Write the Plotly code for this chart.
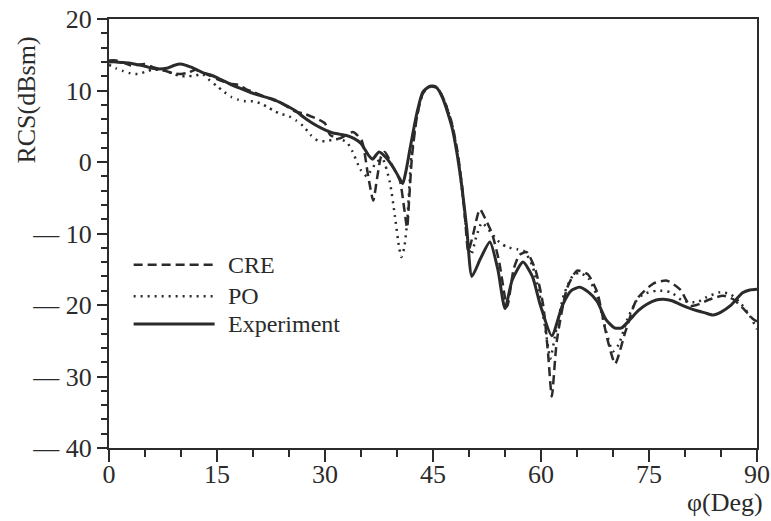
import plotly.graph_objects as go

# ---------------- data ----------------
exp_phi = [0, 1, 2, 3, 4, 5, 6, 7, 8, 9, 10, 11, 12, 13, 14, 15, 16, 17, 18, 19,
           20, 21, 22, 23, 24, 25, 26, 27, 28, 29, 30, 31, 32, 33, 34, 35, 36,
           36.6, 37.5, 38.5, 39.5, 40.3, 40.8, 41.3, 41.8, 42.8, 43.6, 44.6, 45.5,
           46.4, 47.6, 48.3, 49.0, 49.7, 50.4, 51.6, 52.9, 54.0, 55.0, 56.0, 57.5,
           58.8, 59.9, 61.5, 63.0, 64.2, 65.4, 66.6, 67.8, 69.0, 70.2, 71.2, 72.4,
           73.5, 74.7, 76.0, 77.0, 78.2, 79.3, 80.5, 81.7, 82.8, 83.9, 85.0, 86.3,
           87.3, 88.0, 89.0, 90]
exp_rcs = [14.0, 14.0, 13.9, 13.8, 13.6, 13.4, 13.1, 13.0, 13.1, 13.5, 13.7, 13.4,
           13.0, 12.5, 12.2, 11.8, 11.3, 10.8, 10.4, 10.0, 9.6, 9.3, 9.0, 8.7, 8.2,
           7.7, 7.1, 6.3, 5.6, 5.0, 4.5, 4.1, 3.9, 3.7, 3.3, 2.6, 1.0,
           0.4, 1.4, 0.6, -0.8, -2.2, -3.0, -1.0, 1.8, 7.0, 9.8, 10.6, 10.4,
           8.8, 5.0, 1.4, -3.4, -9.4, -16.0, -13.5, -11.2, -15.0, -20.5, -16.5, -14.0,
           -16.0, -20.0, -24.3, -20.0, -18.0, -17.5, -18.2, -19.5, -22.0, -23.2, -23.2, -22.0,
           -20.8, -19.9, -19.3, -19.2, -19.4, -19.9, -20.4, -20.8, -21.1, -21.4, -21.0, -20.1,
           -19.0, -18.3, -17.9, -17.8]

cre_phi = [0, 1, 2, 3, 4, 5, 6, 7, 8, 9, 10, 11, 12, 13, 14, 15, 16, 17, 18, 19,
           20, 21, 22, 23, 24, 25, 26, 27, 28, 29, 30, 30.7, 32, 33, 33.9, 35.1, 36,
           36.7, 37.2, 37.8, 38.3, 39.4, 40.4, 41.0, 41.4, 41.7, 42.1, 42.8, 43.6,
           44.6, 45.5, 46.4, 47.6, 48.4, 49.1, 49.5, 49.9, 50.6, 51.5, 52.3, 53.2,
           54.2, 55.3, 56.2, 57.0, 58.0, 59.2, 60.3, 61.0, 61.5, 62.2, 63.6, 65.0,
           66.5, 67.8, 69.2, 70.3, 71.7, 73.3, 75.6, 77.5, 79.3, 80.7, 81.6, 83.5,
           85.3, 86.7, 88.0, 89.5, 90]
cre_rcs = [14.2, 14.2, 13.9, 13.5, 13.6, 13.7, 13.3, 13.0, 12.7, 12.4, 12.3, 12.5,
           12.9, 12.5, 12.1, 11.6, 11.2, 10.9, 10.8, 10.2, 9.8, 9.4, 9.0, 8.6, 8.2,
           7.6, 7.0, 6.8, 6.4, 6.0, 5.4, 3.8, 3.3, 3.8, 4.2, 3.0, -2.0,
           -5.4, -2.5, 0.8, 1.4, -0.6, -2.6, -6.5, -9.2, -5.0, 1.0, 6.5, 9.6,
           10.6, 10.5, 9.0, 5.5, 1.5, -4.0, -8.5, -12.5, -10.0, -6.6, -8.0, -10.0,
           -14.0, -20.2, -15.0, -13.0, -12.6, -15.0, -20.0, -27.0, -32.8, -25.0, -17.7, -15.2,
           -15.7, -18.2, -24.7, -28.2, -23.8, -19.2, -17.0, -16.6, -17.8, -20.1, -20.0, -19.2,
           -18.7, -19.2, -20.4, -22.0, -22.3]

po_phi = [0, 1, 2, 3, 4, 5, 6, 7, 8, 9, 10, 11, 12, 13, 14, 15, 16, 17, 18, 19,
          20, 21, 22, 23, 24, 25, 26, 27, 28, 29, 30, 31, 32, 33, 33.8, 34.9, 35.8,
          36.5, 37.2, 38.0, 39.0, 39.7, 40.3, 40.6, 41.0, 41.4, 42.0, 42.8, 43.6,
          44.6, 45.5, 46.4, 47.6, 48.4, 49.1, 49.7, 50.3, 51.0, 51.8, 53.0, 54.2,
          55.3, 56.7, 57.7, 58.8, 59.8, 60.7, 61.3, 62.0, 63.2, 64.5, 65.4, 66.6,
          67.8, 69.0, 70.0, 70.8, 72.0, 73.2, 74.2, 76.1, 78.0, 79.7, 81.7, 83.0,
          84.9, 86.3, 87.6, 89.0, 90]
po_rcs = [13.6, 13.1, 12.7, 12.4, 12.3, 12.6, 12.9, 12.9, 12.7, 12.3, 12.0, 12.0,
          12.1, 12.3, 11.4, 10.6, 9.8, 9.1, 8.7, 8.5, 8.5, 8.2, 7.7, 7.1, 6.7,
          6.4, 5.8, 5.0, 3.8, 3.0, 2.9, 3.1, 3.2, 2.8, 1.5, -1.0, -2.0,
          -1.0, 0.0, 0.4, -2.8, -7.5, -12.0, -13.3, -12.0, -8.5, 0.8, 6.5, 9.6,
          10.5, 10.4, 9.0, 5.5, 1.0, -4.5, -10.0, -13.0, -10.5, -8.5, -9.8, -11.2,
          -11.9, -12.2, -12.5, -14.5, -18.5, -24.0, -27.5, -24.0, -18.5, -15.8, -15.5, -16.3,
          -18.8, -23.5, -26.5, -25.5, -22.0, -19.5, -18.5, -18.0, -18.2, -19.4, -19.6, -18.9,
          -18.2, -18.5, -19.6, -21.5, -23.4]

series_names = ["CRE", "PO", "Experiment"]
x_tick_vals = [0, 15, 30, 45, 60, 75, 90]
y_tick_vals = [-40, -30, -20, -10, 0, 10, 20]
y_tick_text = ["\u2014 40", "\u2014 30", "\u2014 20", "\u2014 10", "0", "10", "20"]

# ---------------- figure ----------------
INK = "#2b2b2b"
FONT = "Liberation Serif"

fig = go.Figure()
fig.add_trace(go.Scatter(x=cre_phi, y=cre_rcs, mode="lines", name=series_names[0],
                         line=dict(color=INK, width=2.5, dash="9px,5px", shape="spline", smoothing=0.6)))
fig.add_trace(go.Scatter(x=po_phi, y=po_rcs, mode="lines", name=series_names[1],
                         line=dict(color=INK, width=2.5, dash="2px,5px", shape="spline", smoothing=0.6)))
fig.add_trace(go.Scatter(x=exp_phi, y=exp_rcs, mode="lines", name=series_names[2],
                         line=dict(color=INK, width=3, shape="spline", smoothing=0.6)))

# hand-drawn style legend inside the plot
legend_rows = [(0.427, "9px,5px", 2.5), (0.354, "2px,5px", 2.5), (0.289, "solid", 3)]
for (yy, dsh, w), name in zip(legend_rows, series_names):
    fig.add_shape(type="line", xref="paper", yref="paper", x0=0.038, x1=0.163, y0=yy, y1=yy,
                  line=dict(color=INK, width=w, dash=dsh))
    fig.add_annotation(xref="paper", yref="paper", x=0.181, y=yy, text=name, showarrow=False,
                       xanchor="left", yanchor="middle", font=dict(family=FONT, size=24, color=INK))

fig.add_annotation(xref="paper", yref="paper", x=-0.128, y=0.81, text="RCS(dBsm)", textangle=-90,
                   showarrow=False, xanchor="center", yanchor="middle",
                   font=dict(family=FONT, size=26, color=INK))
fig.add_annotation(xref="paper", yref="paper", x=1.013, y=-0.126, text="\u03c6(Deg)",
                   showarrow=False, xanchor="right", yanchor="middle",
                   font=dict(family=FONT, size=26, color=INK))

fig.update_layout(
    template="none",
    width=771, height=521,
    margin=dict(l=109, r=14, t=19, b=73, autoexpand=False),
    paper_bgcolor="white", plot_bgcolor="white",
    showlegend=False,
    font=dict(family=FONT, size=24, color=INK),
)
fig.update_xaxes(range=[0, 90], tickvals=x_tick_vals, ticks="outside", ticklen=12, tickwidth=2,
                 tickcolor=INK, showline=True, linecolor=INK, linewidth=2, mirror=True,
                 showgrid=False, zeroline=False, automargin=False, ticklabelstandoff=-10,
                 minor=dict(dtick=5, tick0=0, ticks="outside", ticklen=7, tickwidth=2, tickcolor=INK),
                 tickfont=dict(family=FONT, size=26, color=INK))
fig.update_yaxes(range=[-40, 20], tickvals=y_tick_vals, ticktext=y_tick_text, ticks="outside",
                 ticklen=10, tickwidth=2, tickcolor=INK, showline=True, linecolor=INK,
                 linewidth=2, mirror=True, showgrid=False, zeroline=False, automargin=False,
                 minor=dict(dtick=2, tick0=0, ticks="outside", ticklen=6, tickwidth=2, tickcolor=INK),
                 tickfont=dict(family=FONT, size=26, color=INK))

fig.write_html("out.html")
